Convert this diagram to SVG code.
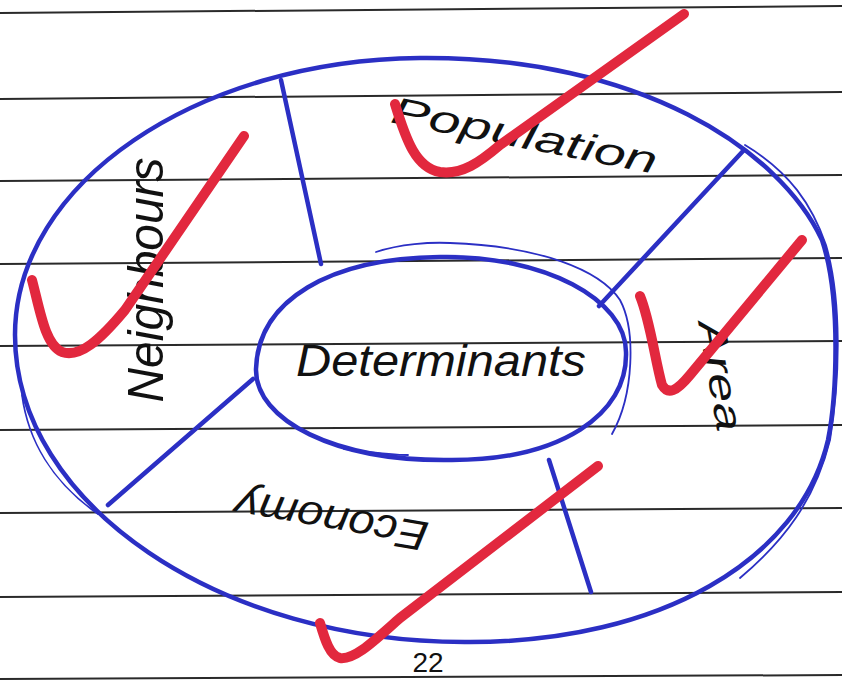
<svg xmlns="http://www.w3.org/2000/svg" width="842" height="680" viewBox="0 0 842 680">
<style>
.rule{stroke:#2a2a2a;stroke-width:2;fill:none}
.ink{stroke:#2b2fc4;stroke-width:4.5;fill:none;stroke-linecap:round;stroke-linejoin:round}
.thin{stroke:#2b2fc4;stroke-width:1.8;fill:none;stroke-linecap:round}
.lbl{font-family:"Liberation Sans","DejaVu Sans",sans-serif;font-style:italic;fill:#111}
.tick{stroke:#e2283e;stroke-width:10;fill:none;stroke-linecap:round;stroke-linejoin:round}
</style>
<rect width="842" height="680" fill="#ffffff"/>
<g id="paper">
<line class="rule" x1="0" y1="13" x2="842" y2="6"/>
<line class="rule" x1="0" y1="99" x2="842" y2="92"/>
<line class="rule" x1="0" y1="181" x2="842" y2="175"/>
<line class="rule" x1="0" y1="264" x2="842" y2="258"/>
<line class="rule" x1="0" y1="346" x2="842" y2="341"/>
<line class="rule" x1="0" y1="430" x2="842" y2="425"/>
<line class="rule" x1="0" y1="513" x2="842" y2="508"/>
<line class="rule" x1="0" y1="597" x2="842" y2="592"/>
<line class="rule" x1="0" y1="679" x2="842" y2="675"/>
</g>
<g id="outer-ring">
<path class="ink" d="M420,58 C640,56 780,150 822,240 C842,300 836,400 828,440 C800,560 660,642 470,642 C220,644 15,504 15,335 C15,183 197,60 420,58 Z"/>
<path class="thin" d="M745,145 C790,172 812,205 826,245 C842,300 840,380 830,440 C815,500 785,540 740,578"/>
<path class="thin" d="M22,395 C28,440 52,482 98,514"/>
</g>
<g id="connectors">
<line class="ink" x1="281" y1="80" x2="321" y2="264"/>
<line class="ink" x1="744" y1="150" x2="599" y2="306"/>
<line class="ink" x1="253" y1="379" x2="108" y2="505"/>
<line class="ink" x1="549" y1="460" x2="591" y2="592"/>
</g>
<g id="determinants">
<path class="ink" d="M440,257 C545,255 626,300 626,352 C628,415 560,460 452,460 C335,462 255,420 256,369 C258,300 330,258 440,257 Z"/>
<path class="thin" d="M376,252 C400,244 430,242 450,243 C540,246 600,270 620,300 C636,330 634,395 612,434"/>
<path class="thin" d="M344,449 C370,452 390,455 408,455"/>
<text class="lbl" x="441" y="376" font-size="44" text-anchor="middle" textLength="290" lengthAdjust="spacingAndGlyphs">Determinants</text>
</g>
<g id="population">
<text class="lbl" font-size="38" text-anchor="middle" textLength="270" lengthAdjust="spacingAndGlyphs" transform="translate(522,148) rotate(11)">Population</text>
</g>
<g id="neighbours">
<text class="lbl" font-size="50" text-anchor="middle" textLength="245" lengthAdjust="spacingAndGlyphs" transform="translate(163,280) rotate(-90)">Neighbours</text>
</g>
<g id="area">
<text class="lbl" font-size="38" text-anchor="middle" textLength="112" lengthAdjust="spacingAndGlyphs" transform="translate(708,378) rotate(80)">Area</text>
</g>
<g id="economy">
<text class="lbl" font-size="42" text-anchor="middle" textLength="195" lengthAdjust="spacingAndGlyphs" transform="translate(334,506) rotate(190)">Economy</text>
</g>
<g id="page-number">
<text x="428" y="672" font-size="28" text-anchor="middle" font-family="Liberation Sans, sans-serif" fill="#111">22</text>
</g>
<g id="marks">
<path class="tick" d="M395,104 C406,140 416,168 440,172 C462,175 480,162 500,145 L684,14"/>
<path class="tick" d="M32,280 C40,310 45,345 62,352 C80,358 100,340 125,310 L244,136"/>
<path class="tick" d="M640,296 C650,320 655,360 662,385 C668,395 676,392 690,375 L802,240"/>
<path class="tick" d="M320,623 C325,640 330,656 340,658 C355,660 375,640 400,618 L598,466"/>
</g>
</svg>
